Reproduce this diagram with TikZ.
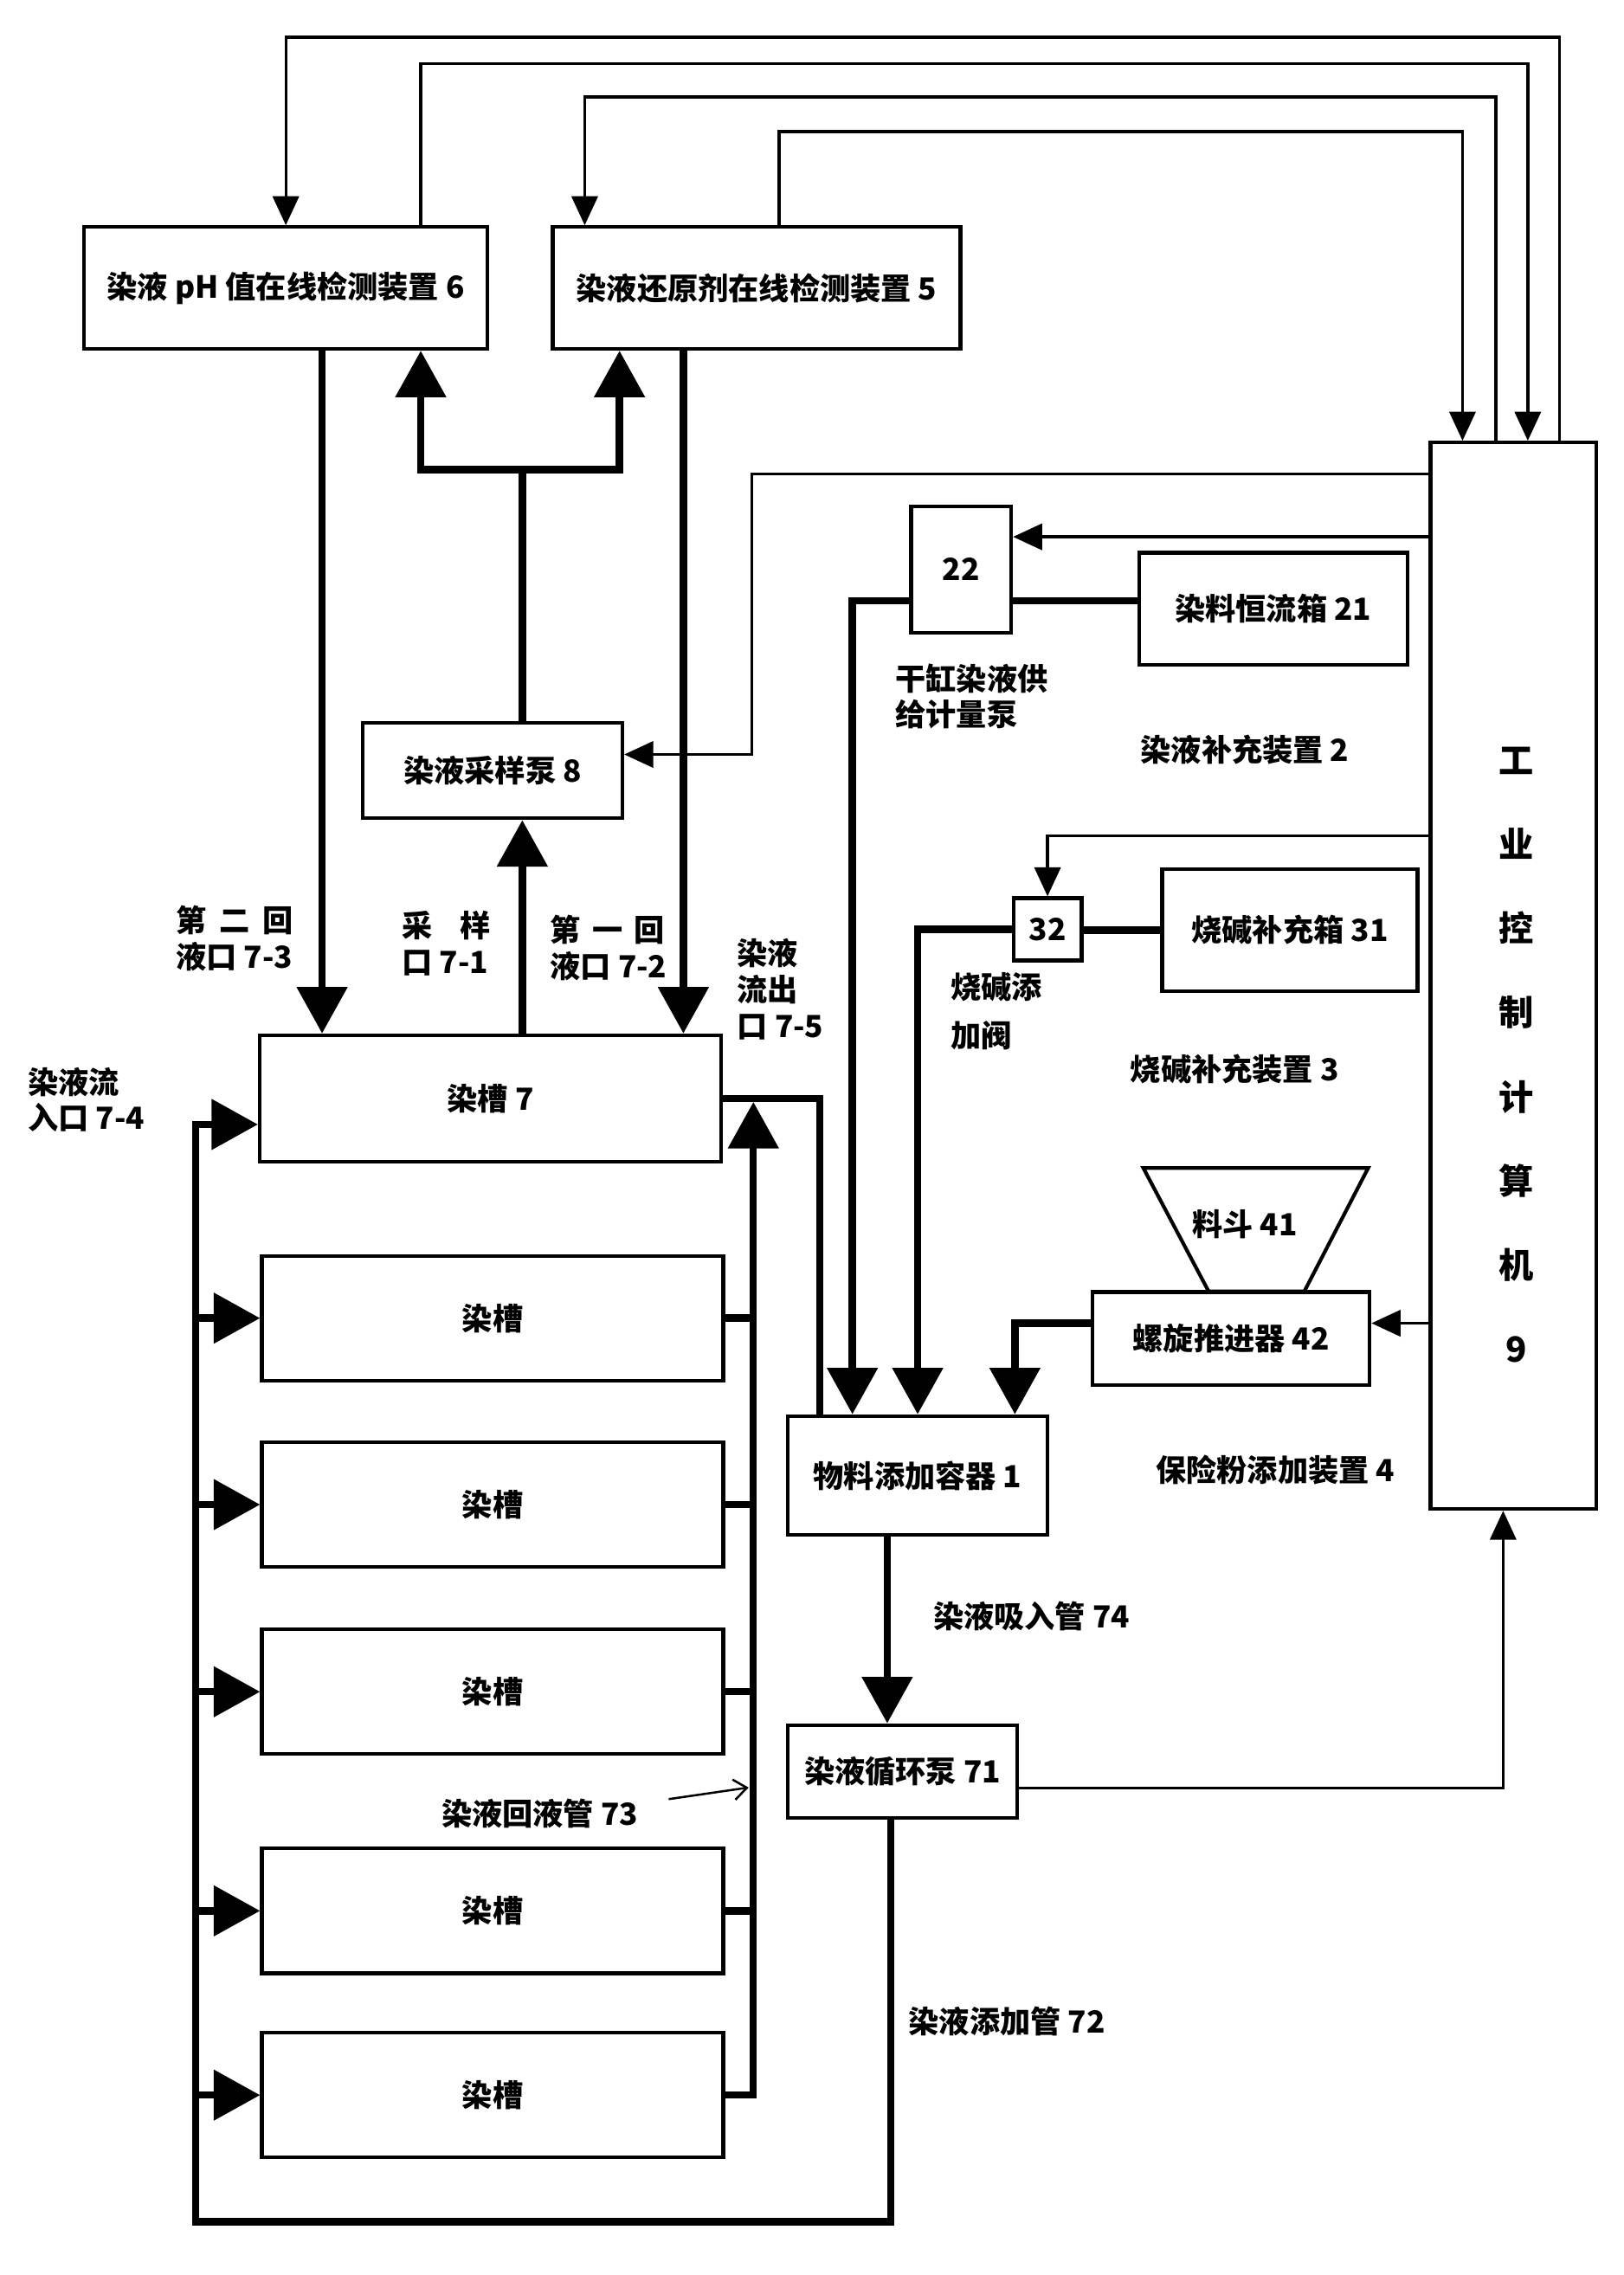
\documentclass[tikz,border=0pt]{standalone}
\usepackage{fontspec}
\setmainfont{Noto Sans CJK SC}
\usetikzlibrary{arrows.meta}
\tikzset{
	box/.style={draw,line width=2.5pt,inner sep=0pt},
	pipe/.style={line width=5pt},
	sig/.style={line width=2pt},
	note/.style={line width=1.5pt,-{Straight Barb[width=14pt,length=9pt]}},
	pipetip/.tip={Triangle[width=34pt,length=32pt]},
	sigtip/.tip={Triangle[width=18pt,length=20pt]},
	txt/.style={inner sep=0pt,align=left}
}
\begin{document}
\begin{tikzpicture}[x=1pt,y=-1pt,font=\bfseries\fontsize{21pt}{25pt}\selectfont]
		\useasboundingbox(0,0)rectangle(1119,1568);
		\node[box,minimum width=278pt,minimum height=84pt](ph6)at(197,198.5){染液 pH 值在线检测装置 6};
		\node[box,minimum width=281pt,minimum height=84pt](red5)at(521.5,198.5){染液还原剂在线检测装置 5};
		\node[box,minimum width=179pt,minimum height=66pt](samp8)at(339.5,531){染液采样泵 8};
		\node[box,minimum width=318pt,minimum height=87pt](tank7)at(338,757){染槽 7};
		\foreach \n/\y in {t1/908.5,t2/1037,t3/1166,t4/1317,t5/1444}
			\node[box,minimum width=318pt,minimum height=86pt](\n)at(339.5,\y){染槽};
		\node[box,minimum width=69pt,minimum height=87pt](pump22)at(662.5,392.5){22};
		\node[box,minimum width=185pt,minimum height=77pt](box21)at(877.5,419.5){染料恒流箱 21};
		\node[box,minimum width=47pt,minimum height=43pt](valve32)at(722,640.5){\raisebox{-9pt}{32}};
		\node[box,minimum width=176pt,minimum height=84pt](box31)at(889,641){烧碱补充箱 31};
		\draw[line width=2.5pt](788,805)--(943,805)--(899,890)--(833,890)--cycle;
		\node[txt](hop41)at(858,844){料斗 41};
		\node[box,minimum width=191pt,minimum height=64pt](screw42)at(848.5,922.5){螺旋推进器 42};
		\node[box,minimum width=179pt,minimum height=82pt](cont1)at(632.5,1017){物料添加容器 1};
		\node[box,minimum width=158pt,minimum height=64pt](pump71)at(622,1221){染液循环泵 71};
		\node[box,minimum width=114pt,minimum height=735pt](comp9)at(1043,672.5){};
		\node[txt,align=center,font=\bfseries\fontsize{24pt}{58pt}\selectfont](comp9t)at(1045,727){工\\业\\控\\制\\计\\算\\机\\9};

		\node[txt,anchor=west](lb73)at(121,647){第\hspace{9pt}二\hspace{9pt}回\\液口 7-3};
		\node[txt,anchor=west](lb71)at(277,650){采\hspace{19pt}样\\口 7-1};
		\node[txt,anchor=west](lb72)at(379,653.5){第\hspace{8pt}一\hspace{8pt}回\\液口 7-2};
		\node[txt,anchor=west](lb75)at(508,682){染液\\流出\\口 7-5};
		\node[txt,anchor=west](lb74)at(19,758){染液流\\入口 7-4};
		\node[txt,anchor=west](lb22)at(617,480){干缸染液供\\给计量泵};
		\node[txt,anchor=west,font=\bfseries\fontsize{21pt}{33pt}\selectfont](lb32)at(655,697){烧碱添\\加阀};
		\node[txt](dev2)at(858,517){染液补充装置 2};
		\node[txt](dev3)at(851,737){烧碱补充装置 3};
		\node[txt](dev4)at(879,1013){保险粉添加装置 4};
		\node[txt](pipe74)at(711,1114){染液吸入管 74};
		\node[txt](pipe72)at(694,1393){染液添加管 72};
		\node[txt](pipe73)at(372,1250){染液回液管 73};
		\coordinate(ret73)at(516,1232);

		\draw[sig,-sigtip]([xshift=32pt]comp9.north)--++(0,-278)-|(ph6.north);
		\draw[sig,-sigtip]([xshift=93pt]ph6.north)--++(0,-111.5)-|([xshift=10pt]comp9.north);
		\draw[sig,-sigtip]([xshift=-12pt]comp9.north)--++(0,-237)-|([xshift=-118.5pt]red5.north);
		\draw[sig,-sigtip]([xshift=15.5pt]red5.north)--++(0,-64.5)-|([xshift=-35pt]comp9.north);
		\draw[sig,-sigtip]([yshift=-23pt]comp9.north west)-|([xshift=88pt,yshift=11pt]samp8.east)--([yshift=11pt]samp8.east);
		\draw[sig,sigtip-]([yshift=22.5pt]pump22.east)--([yshift=22.5pt]pump22.east-|comp9.west);
		\draw[sig,-sigtip]([yshift=-272.5pt]comp9.north west)-|(valve32.north);
		\draw[sig,sigtip-]([yshift=10.5pt]screw42.east)--([yshift=10.5pt]screw42.east-|comp9.west);
		\draw[sig,-sigtip]([yshift=-11.5pt]pump71.east)-|([xshift=-7pt]comp9.south);

		\draw[pipe,-pipetip]([xshift=20.5pt]samp8.north)--++(0,-173)-|([xshift=93pt]ph6.south);
		\draw[pipe,-pipetip]([xshift=20.5pt]samp8.north)--++(0,-173)-|([xshift=-94.5pt]red5.south);
		\draw[pipe,-pipetip]([xshift=22pt]tank7.north)--([xshift=22pt]tank7.north|-samp8.south);
		\draw[pipe,-pipetip]([xshift=25pt]ph6.south)--([xshift=25pt]ph6.south|-tank7.north);
		\draw[pipe,-pipetip]([xshift=-50.5pt]red5.south)--([xshift=-50.5pt]red5.south|-tank7.north);
		\draw[pipe](tank7.east)-|([xshift=-67.5pt]cont1.north);
		\draw[pipe,-pipetip](t5.east)-|([xshift=21pt,yshift=-2.5pt]tank7.east);
		\foreach \n in {t1,t2,t3,t4}
			\draw[pipe](\n.east)--++(21,0);
		\draw[pipe,-pipetip]([xshift=-8pt]pump71.south)--++(0,277)-|([xshift=-43pt,yshift=-18pt]tank7.west)--([yshift=-18pt]tank7.west);
		\foreach \n in {t1,t2,t3,t4,t5}
			\draw[pipe,-pipetip]([xshift=-45pt]\n.west)--(\n.west);
		\draw[pipe,-pipetip]([yshift=-21.5pt]pump22.west)-|([xshift=-45pt]cont1.north);
		\draw[pipe]([yshift=5.5pt]box21.west)--([yshift=5.5pt]box21.west-|pump22.east);
		\draw[pipe,-pipetip](valve32.west)-|(cont1.north);
		\draw[pipe](box31.west)--(box31.west-|valve32.east);
		\draw[pipe,-pipetip]([yshift=10.5pt]screw42.west)-|([xshift=67pt]cont1.north);
		\draw[pipe,-pipetip]([xshift=-21pt]cont1.south)--([xshift=-21pt]cont1.south|-pump71.north);
		\draw[note]([xshift=21pt,yshift=10pt]pipe73.east)--(ret73);
	\end{tikzpicture}
\end{document}
